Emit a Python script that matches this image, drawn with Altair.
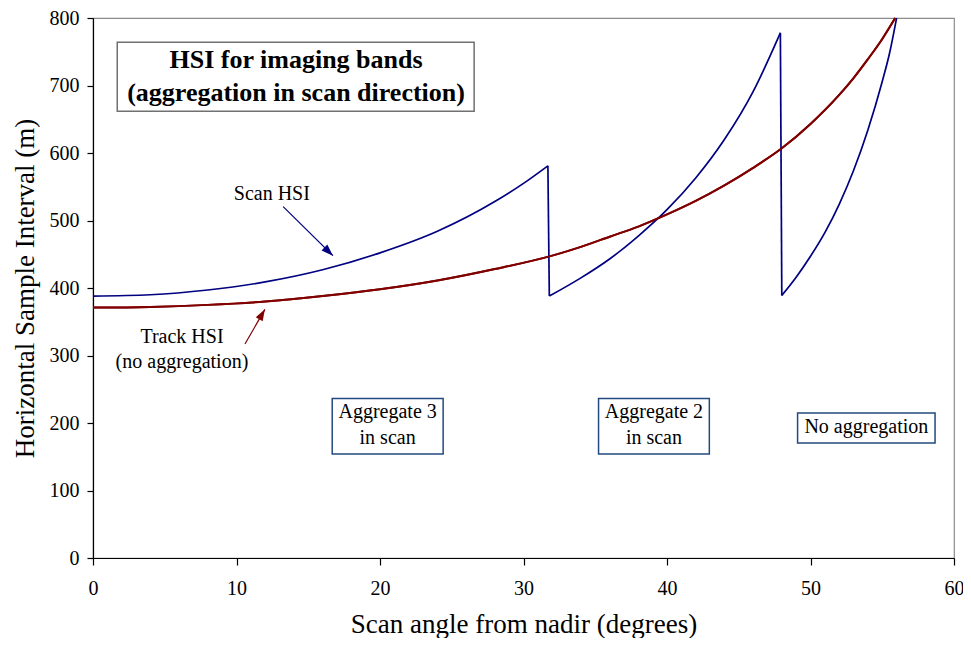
import altair as alt
import pandas as pd

# ---- data ----
# Scan HSI, three aggregation zones (x = scan angle deg, y = HSI m)
scan_a_x = [0, 4, 8, 12, 16, 20, 24, 28, 30, 31.7]
scan_a_y = [388, 390, 397, 409, 427, 452, 484, 528, 555, 581]
scan_b_x = [31.8, 34, 36, 38, 40, 42, 44, 46, 47.9]
scan_b_y = [388, 415, 443, 477, 516, 563, 620, 691, 778]
scan_c_x = [48.0, 49, 50, 51, 52, 53, 54, 55, 55.5, 56.0]
scan_c_y = [389, 416, 447, 482, 524, 574, 634, 706, 747, 800]
# vertical drops between zones
drop_x = [31.7, 31.8, 47.9, 48.0]
drop_y = [581, 388, 778, 389]
drop_id = [1, 1, 2, 2]
# Track HSI (no aggregation)
track_x = [0, 4, 8, 12, 16, 20, 24, 28, 32, 34, 36, 38, 40, 42, 44, 46, 48, 50,
           52, 53, 54, 55, 55.9]
track_y = [371, 372, 375, 380, 388, 398, 411, 428, 448, 461, 476, 491, 509, 529,
           552, 578, 607, 643, 686, 711, 739, 769, 800]

x_ticks = [0, 10, 20, 30, 40, 50, 60]
y_ticks = [0, 100, 200, 300, 400, 500, 600, 700, 800]

# annotation anchors (data coordinates)
title_lines = ["HSI for imaging bands", "(aggregation in scan direction)"]
title_x = [14.15, 14.15]
title_y = [737.8, 688.9]
title_box = {"x": 1.69, "x2": 26.56, "y": 764, "y2": 662}

zone_box_x = [16.67, 35.23, 49.10]
zone_box_x2 = [24.40, 42.95, 58.68]
zone_box_y = [236.3, 236.3, 214.8]
zone_box_y2 = [154.1, 154.1, 170.4]
zone_text = ["Aggregate 3", "in scan", "Aggregate 2", "in scan", "No aggregation"]
zone_text_x = [20.53, 20.53, 39.09, 39.09, 53.89]
zone_text_y = [216.3, 177.8, 216.3, 177.8, 194.1]

scan_lbl = {"t": "Scan HSI", "x": 12.46, "y": 538.8}
track_lbl_t = ["Track HSI", "(no aggregation)"]
track_lbl_x = [6.2, 6.2]
track_lbl_y = [327.9, 290.8]

scan_arrow = {"x": [13.25, 16.72], "y": [520.5, 447.9]}
track_arrow = {"x": [10.59, 11.98], "y": [317.0, 368.4]}

# ---- build tables ----
scan_rows = []
for seg, xs_, ys_ in [("A", scan_a_x, scan_a_y), ("B", scan_b_x, scan_b_y),
                      ("C", scan_c_x, scan_c_y)]:
    for xv, yv in zip(xs_, ys_):
        scan_rows.append({"seg": seg, "x": xv, "y": yv})
scan_df = pd.DataFrame(scan_rows)
drop_df = pd.DataFrame({"x": drop_x, "y": drop_y, "id": drop_id})
track_df = pd.DataFrame({"x": track_x, "y": track_y})

FONT = "Liberation Serif"
NAVY = "#000080"
MAROON = "#800000"

xs = alt.Scale(domain=[0, 60], nice=False)
ys = alt.Scale(domain=[0, 800], nice=False)

track_line = alt.Chart(track_df).mark_line(color=MAROON, strokeWidth=2,
                                           interpolate="monotone").encode(
    x=alt.X("x:Q", scale=xs,
            axis=alt.Axis(title="Scan angle from nadir (degrees)", values=x_ticks,
                          tickSize=7, labelPadding=13, titlePadding=13,
                          labelFlush=False, grid=False)),
    y=alt.Y("y:Q", scale=ys,
            axis=alt.Axis(title="Horizontal Sample Interval (m)", values=y_ticks,
                          tickSize=6, labelPadding=8, titlePadding=10,
                          labelFlush=False, grid=False)),
)

scan_line = alt.Chart(scan_df).mark_line(color=NAVY, strokeWidth=1.7,
                                         interpolate="monotone").encode(
    x=alt.X("x:Q", scale=xs), y=alt.Y("y:Q", scale=ys), detail="seg:N")

drop_line = alt.Chart(drop_df).mark_line(color=NAVY, strokeWidth=1.7).encode(
    x=alt.X("x:Q", scale=xs), y=alt.Y("y:Q", scale=ys), detail="id:N")

tbox = alt.Chart(pd.DataFrame([title_box])).mark_rect(
    fill="white", stroke="#707070", strokeWidth=1.5).encode(
    x=alt.X("x:Q", scale=xs), x2="x2:Q", y=alt.Y("y:Q", scale=ys), y2="y2:Q")

ttext = alt.Chart(pd.DataFrame({"t": title_lines, "x": title_x, "y": title_y})).mark_text(
    font=FONT, fontSize=26, fontWeight="bold", color="black",
    align="center", baseline="middle").encode(
    x=alt.X("x:Q", scale=xs), y=alt.Y("y:Q", scale=ys), text="t:N")

zbox = alt.Chart(pd.DataFrame({"x": zone_box_x, "x2": zone_box_x2,
                               "y": zone_box_y, "y2": zone_box_y2})).mark_rect(
    fill="white", stroke="#234a80", strokeWidth=1.5).encode(
    x=alt.X("x:Q", scale=xs), x2="x2:Q", y=alt.Y("y:Q", scale=ys), y2="y2:Q")

ztext = alt.Chart(pd.DataFrame({"t": zone_text, "x": zone_text_x,
                                "y": zone_text_y})).mark_text(
    font=FONT, fontSize=20, color="black", align="center", baseline="middle").encode(
    x=alt.X("x:Q", scale=xs), y=alt.Y("y:Q", scale=ys), text="t:N")

lbl_df = pd.DataFrame({"t": [scan_lbl["t"]] + track_lbl_t,
                       "x": [scan_lbl["x"]] + track_lbl_x,
                       "y": [scan_lbl["y"]] + track_lbl_y})
lbl = alt.Chart(lbl_df).mark_text(
    font=FONT, fontSize=20, color="black", align="center", baseline="middle").encode(
    x=alt.X("x:Q", scale=xs), y=alt.Y("y:Q", scale=ys), text="t:N")

HEAD = "M0,0L-0.35,1L0.35,1Z"

sa_df = pd.DataFrame(scan_arrow)
sa_line = alt.Chart(sa_df).mark_line(color=NAVY, strokeWidth=1.2).encode(
    x=alt.X("x:Q", scale=xs), y=alt.Y("y:Q", scale=ys))
sa_head = alt.Chart(sa_df.iloc[[1]]).mark_point(
    shape=HEAD, filled=True, color=NAVY, opacity=1, size=560, angle=134).encode(
    x=alt.X("x:Q", scale=xs), y=alt.Y("y:Q", scale=ys))

ta_df = pd.DataFrame(track_arrow)
ta_line = alt.Chart(ta_df).mark_line(color=MAROON, strokeWidth=1.2).encode(
    x=alt.X("x:Q", scale=xs), y=alt.Y("y:Q", scale=ys))
ta_head = alt.Chart(ta_df.iloc[[1]]).mark_point(
    shape=HEAD, filled=True, color=MAROON, opacity=1, size=520, angle=30).encode(
    x=alt.X("x:Q", scale=xs), y=alt.Y("y:Q", scale=ys))

chart = alt.layer(
    track_line, tbox, ttext, zbox, ztext, lbl, sa_line, sa_head, ta_line, ta_head,
    scan_line, drop_line,
    alt.Chart(track_df).mark_line(color=MAROON, strokeWidth=2,
                                  interpolate="monotone").encode(
        x=alt.X("x:Q", scale=xs), y=alt.Y("y:Q", scale=ys)),
).properties(
    width=861, height=540,
    padding={"left": 85, "top": 10, "right": 9, "bottom": 80},
    autosize=alt.AutoSizeParams(type="none"),
    background="white",
).configure_view(
    stroke="#8c8c8c", strokeWidth=1.2
).configure_axis(
    domainColor="black", domainWidth=1.2, tickColor="black", tickWidth=1.2,
    labelFont=FONT, labelFontSize=20, labelColor="black",
    titleFont=FONT, titleFontSize=27, titleFontWeight="normal", titleColor="black",
    labelOverlap=False,
)

chart.save("out.html", embed_options={"renderer": "svg", "actions": False})
